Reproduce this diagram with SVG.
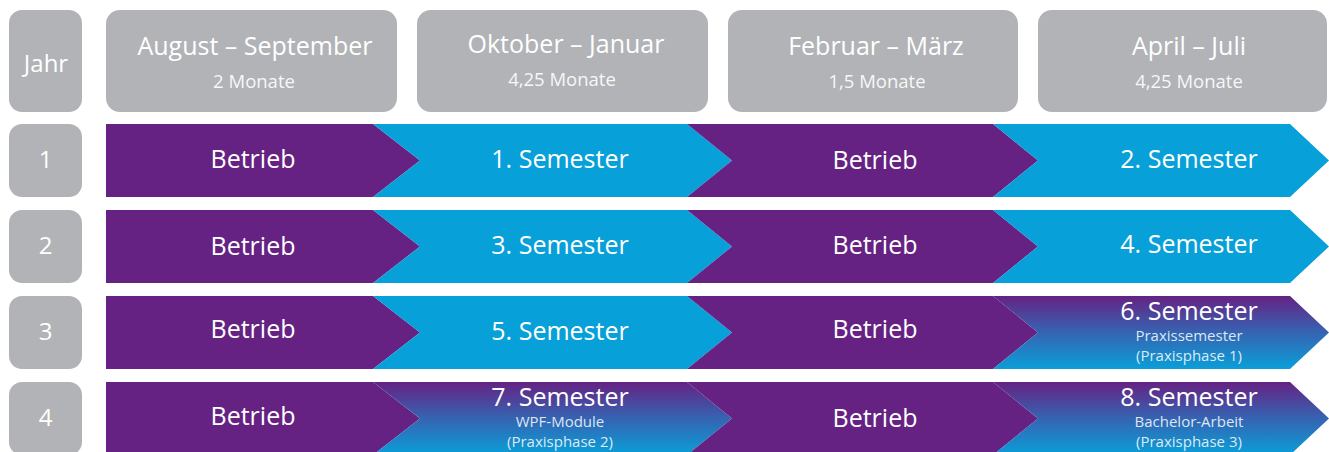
<svg xmlns="http://www.w3.org/2000/svg" width="1329" height="452" viewBox="0 0 1329 452">
<defs>
<linearGradient id="grad" x1="0" y1="0" x2="0" y2="1">
<stop offset="0" stop-color="#652283"/>
<stop offset="0.5" stop-color="#3564b2"/>
<stop offset="1" stop-color="#0a9fd8"/>
</linearGradient>
<style>
.g{fill:#b1b3b6}
.p{fill:#652283}
.b{fill:#08a0d8}
.gr{fill:url(#grad)}
text{font-family:"Open Sans","Noto Sans","Liberation Sans",sans-serif;fill:#fff;text-anchor:middle}
.h{font-size:25px}
.s{font-size:18.5px;fill-opacity:0.92}
.n{font-size:24px}
.t{font-size:25px}
.m{font-size:15px;fill-opacity:0.85}
</style>
</defs>
<rect width="1329" height="452" fill="#fff"/>
<g id="header">
<g id="jahr"><rect class="g" x="9" y="10" width="73" height="102" rx="13"/><text class="n" x="46" y="72">Jahr</text></g>
<g id="h1"><rect class="g" x="106" y="10" width="291" height="102" rx="14"/><text class="h" x="255" y="55">August – September</text><text class="s" x="254" y="88">2 Monate</text></g>
<g id="h2"><rect class="g" x="417" y="10" width="291" height="102" rx="14"/><text class="h" x="566" y="53">Oktober – Januar</text><text class="s" x="562" y="86">4,25 Monate</text></g>
<g id="h3"><rect class="g" x="728" y="10" width="290" height="102" rx="14"/><text class="h" x="876" y="55">Februar – März</text><text class="s" x="877" y="88">1,5 Monate</text></g>
<g id="h4"><rect class="g" x="1038" y="10" width="289" height="102" rx="14"/><text class="h" x="1189" y="55">April – Juli</text><text class="s" x="1189" y="88">4,25 Monate</text></g>
</g>
<g id="years">
<g id="y1"><rect class="g" x="9" y="124" width="73" height="73" rx="13"/><text class="n" x="45.5" y="168">1</text></g>
<g id="y2"><rect class="g" x="9" y="210" width="73" height="73" rx="13"/><text class="n" x="45.5" y="254">2</text></g>
<g id="y3"><rect class="g" x="9" y="296" width="73" height="73" rx="13"/><text class="n" x="45.5" y="340">3</text></g>
<g id="y4"><rect class="g" x="9" y="382" width="73" height="73" rx="13"/><text class="n" x="45.5" y="426">4</text></g>
</g>
<g id="row1">
<polygon class="p" points="106,124 373,124 420,160.5 373,197 106,197"/>
<polygon class="b" points="373,124 687,124 732,160.5 687,197 373,197 420,160.5"/>
<polygon class="p" points="687,124 993,124 1038,160.5 993,197 687,197 732,160.5"/>
<polygon class="b" points="993,124 1290,124 1329,160.5 1290,197 993,197 1038,160.5"/>
<text class="t" x="253" y="168">Betrieb</text>
<text class="t" x="560" y="168">1. Semester</text>
<text class="t" x="875" y="169">Betrieb</text>
<text class="t" x="1189" y="168">2. Semester</text>
</g>
<g id="row2">
<polygon class="p" points="106,210 373,210 420,246.5 373,283 106,283"/>
<polygon class="b" points="373,210 687,210 732,246.5 687,283 373,283 420,246.5"/>
<polygon class="p" points="687,210 993,210 1038,246.5 993,283 687,283 732,246.5"/>
<polygon class="b" points="993,210 1290,210 1329,246.5 1290,283 993,283 1038,246.5"/>
<text class="t" x="253" y="255">Betrieb</text>
<text class="t" x="560" y="254">3. Semester</text>
<text class="t" x="875" y="254">Betrieb</text>
<text class="t" x="1189" y="253">4. Semester</text>
</g>
<g id="row3">
<polygon class="p" points="106,296 373,296 420,332.5 373,369 106,369"/>
<polygon class="b" points="373,296 687,296 732,332.5 687,369 373,369 420,332.5"/>
<polygon class="p" points="687,296 993,296 1038,332.5 993,369 687,369 732,332.5"/>
<polygon class="gr" points="993,296 1290,296 1329,332.5 1290,369 993,369 1038,332.5"/>
<text class="t" x="253" y="338">Betrieb</text>
<text class="t" x="560" y="340">5. Semester</text>
<text class="t" x="875" y="338">Betrieb</text>
<text class="t" x="1189" y="320">6. Semester</text>
<text class="m" x="1189" y="341">Praxissemester</text>
<text class="m" x="1189" y="361">(Praxisphase 1)</text>
</g>
<g id="row4">
<polygon class="p" points="106,382 373,382 420,418.5 373,455 106,455"/>
<polygon class="gr" points="373,382 687,382 732,418.5 687,455 373,455 420,418.5"/>
<polygon class="p" points="687,382 993,382 1038,418.5 993,455 687,455 732,418.5"/>
<polygon class="gr" points="993,382 1290,382 1329,418.5 1290,455 993,455 1038,418.5"/>
<text class="t" x="253" y="425">Betrieb</text>
<text class="t" x="560" y="406">7. Semester</text>
<text class="m" x="560" y="427">WPF-Module</text>
<text class="m" x="560" y="447">(Praxisphase 2)</text>
<text class="t" x="875" y="427">Betrieb</text>
<text class="t" x="1189" y="406">8. Semester</text>
<text class="m" x="1189" y="427">Bachelor-Arbeit</text>
<text class="m" x="1189" y="447">(Praxisphase 3)</text>
</g>
</svg>
